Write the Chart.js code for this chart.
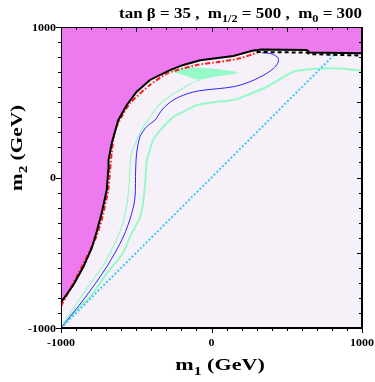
<!DOCTYPE html>
<html>
<head>
<meta charset="utf-8">
<script src="https://cdn.jsdelivr.net/npm/chart.js@4.4.0/dist/chart.umd.min.js"></script>
<style>
  body { margin: 0; background: #fff; }
</style>
</head>
<body>
<canvas id="myChart" width="375" height="382"></canvas>
<script>
const xTicks = [-1000, 0, 1000];
const yTicks = [-1000, 0, 1000];

// edge of the excluded (magenta) region, solid black, and the dashed part
const excludedEdge = [[-1000,-830],[-918,-714],[-852,-595],[-796,-470],[-763,-360],[-730,-238],[-696,-83],[-686,50],[-684,116],[-663,227],[-619,382],[-563,482],[-497,570],[-409,648],[-276,714],[-187,748],[-76,779],[145,807],[270,842],[330,850],[633,848],[652,830],[1000,826]];
const dashedEdge = [[300,834],[633,830],[655,820],[1000,810]];
const redContour = [[-1000,-855],[-896,-659],[-774,-415],[-730,-283],[-686,-83],[-674,50],[-663,163],[-641,316],[-597,404],[-541,495],[-409,615],[-289,694],[-98,747],[57,769],[189,792],[311,832]];
const blueContour = [[-1000,-1000],[-852,-814],[-696,-593],[-586,-394],[-530,-238],[-508,-128],[-504,50],[-497,163],[-475,271],[-431,337],[-375,382],[-353,415],[-320,460],[-254,515],[-165,555],[-76,577],[145,603],[256,637],[367,692],[433,747],[444,792],[400,821],[334,829]];
const greenInner = [[-993,-987],[-907,-854],[-807,-708],[-714,-575],[-661,-475],[-621,-389],[-588,-302],[-561,-170],[-548,-50],[-542,50],[-535,149],[-515,203],[-488,269],[-455,335],[-422,382],[-395,422],[-375,448],[-342,488],[-276,541],[-209,581],[-143,621],[-76,648]];
const greenOuter = [[-993,-987],[-920,-900],[-807,-794],[-694,-635],[-588,-502],[-542,-395],[-475,-263],[-455,-170],[-442,-50],[-435,50],[-429,116],[-409,183],[-389,249],[-355,296],[-309,349],[-276,382],[-256,402],[-176,442],[-96,482],[23,502],[145,515],[256,555],[367,603],[488,674],[522,692],[566,710],[809,726],[1000,710]];
const greenPatch = [[-262,708],[-209,721],[-143,728],[-76,726],[3,720],[90,710],[170,696],[90,683],[3,670],[-76,653],[-129,663],[-176,681],[-222,693],[-262,708]];
const cyanLine = [[-1000,-1000],[815,815]];

const magenta = 'rgb(238,122,240)';
const lavender = 'rgb(246,240,248)';
const green = 'rgb(150,250,200)';

function toXY(arr) {
    return arr.map(p => ({ x: p[0], y: p[1] }));
}

function line(data, color, width, extra) {
    return Object.assign({
        data: toXY(data),
        showLine: true,
        borderColor: color,
        borderWidth: width,
        pointRadius: 0,
        fill: false,
        tension: 0
    }, extra || {});
}

const serif = '"Liberation Serif", "Times New Roman", serif';

// draws text with subscripts, stretched sideways by a factor
function drawRich(ctx, parts, x, y, size, stretch, align) {
    let w = 0;
    parts.forEach(p => {
        ctx.font = 'bold ' + (p.sub ? size * 0.72 : size) + 'px ' + serif;
        w += ctx.measureText(p.t).width;
    });
    ctx.save();
    ctx.translate(x, y);
    ctx.scale(stretch, 1);
    let cx = align === 'right' ? -w : align === 'center' ? -w / 2 : 0;
    ctx.textBaseline = 'alphabetic';
    ctx.textAlign = 'left';
    parts.forEach(p => {
        ctx.font = 'bold ' + (p.sub ? size * 0.72 : size) + 'px ' + serif;
        ctx.fillText(p.t, cx, p.sub ? size * 0.3 : 0);
        cx += ctx.measureText(p.t).width;
    });
    ctx.restore();
}

const background = {
    id: 'background',
    beforeDraw(chart) {
        const { ctx, chartArea: a } = chart;
        ctx.save();
        ctx.fillStyle = '#fff';
        ctx.fillRect(0, 0, chart.width, chart.height);
        ctx.fillStyle = lavender;
        ctx.fillRect(a.left, a.top, a.right - a.left, a.bottom - a.top);
        ctx.restore();
    }
};

const frame = {
    id: 'frame',
    afterDraw(chart) {
        const { ctx, chartArea: a } = chart;
        const x = chart.scales.x, y = chart.scales.y;
        ctx.save();
        ctx.strokeStyle = '#000';
        ctx.fillStyle = '#000';
        ctx.lineWidth = 1;
        ctx.beginPath();
        for (let v = -1000; v <= 1000; v += 100) {
            const px = Math.round(x.getPixelForValue(v)) + 0.5;
            const py = Math.round(y.getPixelForValue(v)) + 0.5;
            const major = xTicks.includes(v);
            const len = (v % 500 === 0) ? 5 : 3;
            // bottom, outward
            ctx.moveTo(px, a.bottom);
            ctx.lineTo(px, a.bottom + (major ? 5 : 3));
            // top, inward
            ctx.moveTo(px, a.top);
            ctx.lineTo(px, a.top + len);
            // left, outward
            ctx.moveTo(a.left, py);
            ctx.lineTo(a.left - (major ? 5 : 3), py);
            // right, inward
            ctx.moveTo(a.right, py);
            ctx.lineTo(a.right - len, py);
        }
        ctx.stroke();
        // frame
        ctx.lineWidth = 1;
        ctx.beginPath();
        ctx.moveTo(a.left + 0.5, a.bottom);
        ctx.lineTo(a.left + 0.5, a.top + 0.5);
        ctx.lineTo(a.right, a.top + 0.5);
        ctx.stroke();
        ctx.lineWidth = 2;
        ctx.beginPath();
        ctx.moveTo(a.right, a.top);
        ctx.lineTo(a.right, a.bottom);
        ctx.lineTo(a.left, a.bottom);
        ctx.stroke();

        // tick labels
        xTicks.forEach(v => {
            drawRich(ctx, [{ t: String(v) }], x.getPixelForValue(v), 346, 10, 1.2, 'center');
        });
        yTicks.forEach(v => {
            drawRich(ctx, [{ t: String(v) }], 56, y.getPixelForValue(v) + 3.5, 10, 1.2, 'right');
        });

        // title
        drawRich(ctx, [
            { t: 'tan \u03b2 = 35 ,  m' }, { t: '1/2', sub: true },
            { t: ' = 500 ,  m' }, { t: '0', sub: true }, { t: ' = 300' }
        ], 362, 18, 14.5, 1.17, 'right');

        // axis titles
        drawRich(ctx, [{ t: 'm' }, { t: '1', sub: true }, { t: ' (GeV)' }], 220, 370, 17, 1.3, 'center');
        ctx.save();
        ctx.translate(22, 148);
        ctx.rotate(-Math.PI / 2);
        drawRich(ctx, [{ t: 'm' }, { t: '2', sub: true }, { t: ' (GeV)' }], 0, 0, 17, 1.25, 'center');
        ctx.restore();
        ctx.restore();
    }
};

const data = {
    datasets: [
        line(excludedEdge, '#000', 2, { fill: 'end', backgroundColor: magenta, order: 0 }),
        line(dashedEdge, '#000', 2, { borderDash: [4, 3], order: 1 }),
        line(redContour, 'rgb(255,30,30)', 2, { borderDash: [5, 2, 1.5, 2], order: 2, tension: 0.2 }),
        line(cyanLine, 'rgb(60,200,250)', 2, { borderDash: [2, 2], order: 3 }),
        line(blueContour, 'rgb(40,40,255)', 1, { order: 4, tension: 0.3 }),
        line(greenInner, green, 1.2, { order: 5, tension: 0.3 }),
        line(greenOuter, green, 2, { order: 6, tension: 0.3 }),
        line(greenPatch, green, 1, { fill: 'shape', backgroundColor: green, order: 7, tension: 0.3 })
    ]
};

const config = {
    type: 'scatter',
    data: data,
    options: {
        responsive: false,
        animation: false,
        devicePixelRatio: 1,
        layout: {
            padding: { left: 61, top: 27, right: 13, bottom: 54 }
        },
        scales: {
            x: { type: 'linear', min: -1000, max: 1000, display: false },
            y: { type: 'linear', min: -1000, max: 1000, display: false }
        },
        plugins: {
            legend: { display: false },
            tooltip: { enabled: false },
            filler: { drawTime: 'beforeDatasetsDraw' }
        }
    },
    plugins: [background, frame]
};

const myChart = new Chart(
    document.getElementById('myChart'),
    config
);
</script>
</body>
</html>
